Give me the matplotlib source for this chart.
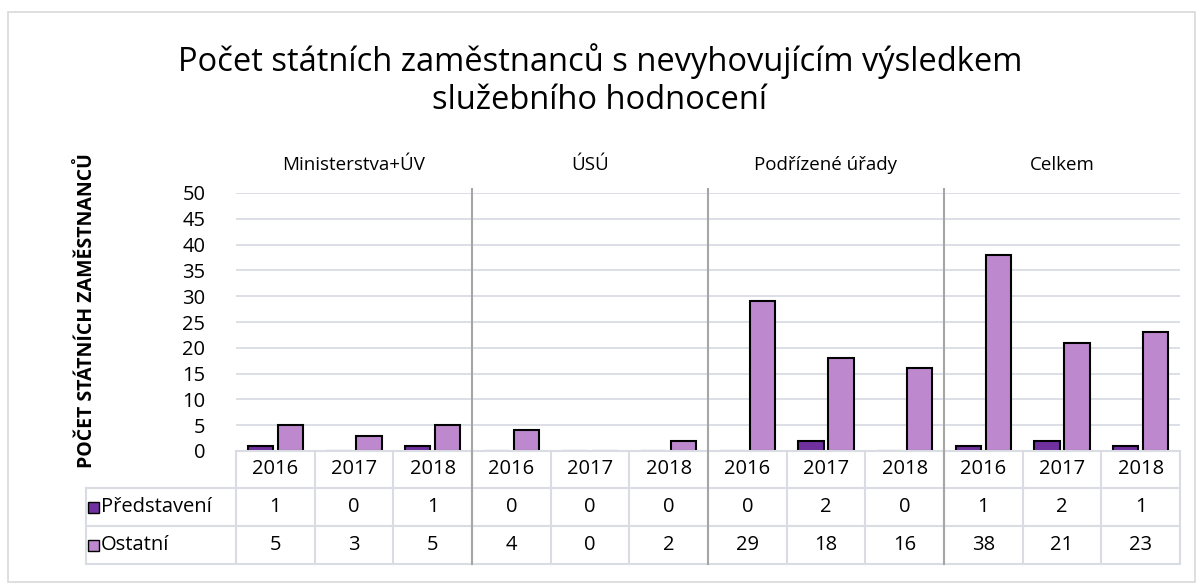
import numpy as np
import matplotlib
matplotlib.use('Agg')
import matplotlib.pyplot as plt
from matplotlib.patches import Rectangle
from matplotlib.lines import Line2D

plt.rcParams['font.family'] = ['Open Sans', 'DejaVu Sans']

# data
groups = ['Ministerstva+ÚV', 'ÚSÚ', 'Podřízené úřady', 'Celkem']
years = ['2016', '2017', '2018']
series_names = ['Představení', 'Ostatní']
predstaveni = [1, 0, 1, 0, 0, 0, 0, 2, 0, 1, 2, 1]
ostatni = [5, 3, 5, 4, 0, 2, 29, 18, 16, 38, 21, 23]
colors = ['#7030A0', '#BE88CE']

W, H = 1200, 585
fig = plt.figure(figsize=(W / 100, H / 100), dpi=100)


def fx(px):
    return px / W


def fy(py):
    return 1 - py / H


# chart border
fig.add_artist(Rectangle((fx(8), fy(582)), fx(1195) - fx(8), fy(12) - fy(582),
                         transform=fig.transFigure, fill=False,
                         edgecolor='#D9D9D9', lw=1.2))

x0, x1 = 236, 1180
y_top, y_bot = 193, 451
ax = fig.add_axes([fx(x0), fy(y_bot), fx(x1) - fx(x0), fy(y_top) - fy(y_bot)])

n = len(predstaveni)
x = np.arange(n) + 0.5
bw = 0.32
off = 0.19
ax.bar(x - off, predstaveni, bw, color=colors[0], edgecolor='black', lw=1.5, zorder=3)
ax.bar(x + off, ostatni, bw, color=colors[1], edgecolor='black', lw=1.5, zorder=3)

ax.set_xlim(0, n)
ax.set_ylim(0, 50)
ax.set_yticks(range(0, 51, 5))
ax.yaxis.grid(True, color='#D9DCE3', lw=1.3, zorder=0)
ax.set_xticks([])
ax.tick_params(axis='y', length=0, labelsize=14.5, pad=22)
for s in ax.spines.values():
    s.set_visible(False)

ax.set_ylabel('POČET STÁTNÍCH ZAMĚSTNANCŮ', fontsize=14, fontweight='bold')
ax.yaxis.set_label_coords(fx(97 - x0) / (fx(x1) - fx(x0)), (y_bot - 311) / (y_bot - y_top))

# title
fig.text(0.5, fy(80), 'Počet státních zaměstnanců s nevyhovujícím výsledkem\nslužebního hodnocení',
         ha='center', va='center', fontsize=23.5, linespacing=1.2)

# group labels and separators
cw = (x1 - x0) / n
for gi, g in enumerate(groups):
    cx = x0 + cw * (gi * 3 + 1.5)
    fig.text(fx(cx), fy(165), g, ha='center', va='center', fontsize=13.5)
    if gi > 0:
        sx = x0 + cw * gi * 3
        fig.add_artist(Line2D([fx(sx), fx(sx)], [fy(189), fy(564)],
                              transform=fig.transFigure, color='#A6A6A6', lw=1.5, zorder=5))

# data table
grid_c = '#D9DCE3'
rows = [451, 488, 526, 564]
leg_x = 86


def hline(y, xa, xb):
    fig.add_artist(Line2D([fx(xa), fx(xb)], [fy(y), fy(y)], transform=fig.transFigure,
                          color=grid_c, lw=1.5))


def vline(x_, ya, yb):
    fig.add_artist(Line2D([fx(x_), fx(x_)], [fy(ya), fy(yb)], transform=fig.transFigure,
                          color=grid_c, lw=1.5))


hline(rows[0], x0, x1)
for r in rows[1:]:
    hline(r, leg_x, x1)
vline(leg_x, rows[1], rows[3])
for i in range(n + 1):
    vline(x0 + cw * i, rows[0], rows[3])

fs = 14.5
for i in range(n):
    cx = x0 + cw * (i + 0.5)
    fig.text(fx(cx), fy((rows[0] + rows[1]) / 2), years[i % 3], ha='center', va='center', fontsize=fs)
    fig.text(fx(cx), fy((rows[1] + rows[2]) / 2), str(predstaveni[i]), ha='center', va='center', fontsize=fs)
    fig.text(fx(cx), fy((rows[2] + rows[3]) / 2), str(ostatni[i]), ha='center', va='center', fontsize=fs)

for k, name in enumerate(series_names):
    ym = (rows[k + 1] + rows[k + 2]) / 2
    fig.add_artist(Rectangle((fx(88), fy(ym + 6)), fx(11), fy(0) - fy(11),
                             transform=fig.transFigure, facecolor=colors[k],
                             edgecolor='black', lw=1))
    fig.text(fx(101), fy(ym), name, ha='left', va='center', fontsize=fs)

fig.savefig('out.png', dpi=100)
